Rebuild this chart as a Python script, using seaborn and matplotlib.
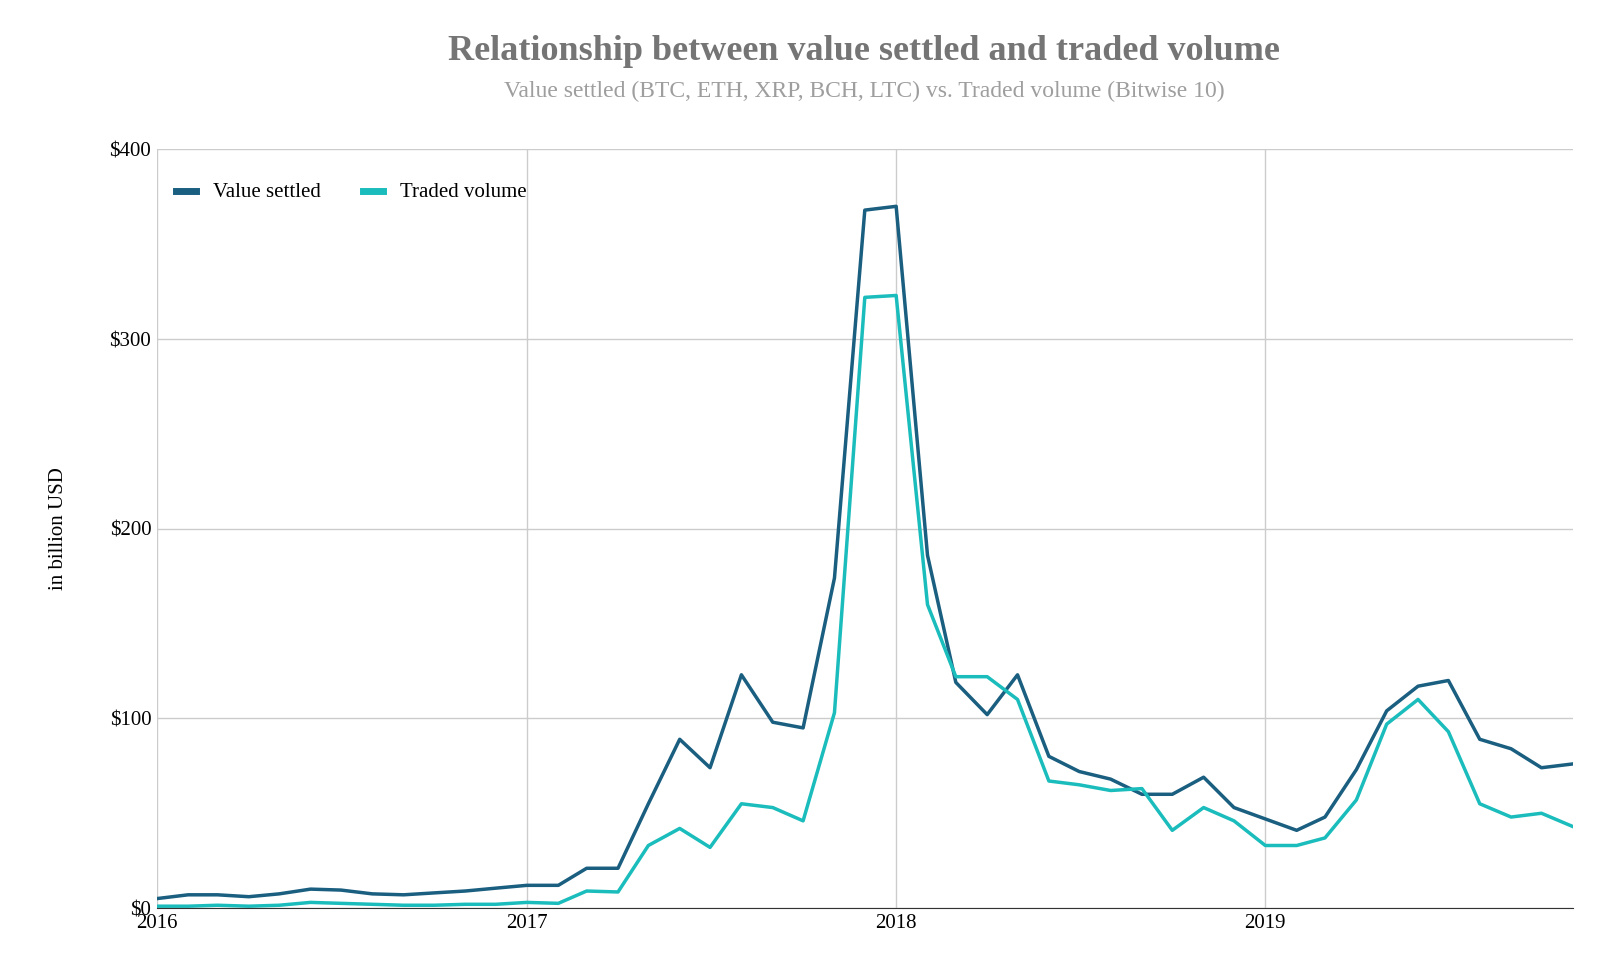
import matplotlib
matplotlib.use("Agg")
import matplotlib.pyplot as plt
import seaborn as sns
import pandas as pd
import numpy as np

months = pd.date_range("2016-01-01", periods=47, freq="MS")
value_settled = [5,7,7,6,7.5,10,9.5,7.5,7,8,9,10.5,
                 12,12,21,21,55,89,74,123,98,95,174,368,
                 370,186,119,102,123,80,72,68,60,60,69,53,
                 47,41,48,73,104,117,120,89,84,74,76]
traded_volume = [1,1,1.5,1,1.5,3,2.5,2,1.5,1.5,2,2,
                 3,2.5,9,8.5,33,42,32,55,53,46,103,322,
                 323,160,122,122,110,67,65,62,63,41,53,46,
                 33,33,37,57,97,110,93,55,48,50,43]
year_ticks = ["2016", "2017", "2018", "2019"]

df = pd.DataFrame({"date": list(months)*2,
                   "value": value_settled + traded_volume,
                   "series": ["Value settled"]*47 + ["Traded volume"]*47})

plt.rcParams["font.family"] = "Liberation Serif"
fig = plt.figure(figsize=(16, 9.64), dpi=100)
ax = fig.add_axes([0.098, 0.058, 0.885, 0.787])
sns.lineplot(data=df, x="date", y="value", hue="series",
             palette={"Value settled": "#1a5e80", "Traded volume": "#1bbcbc"},
             linewidth=2.5, ax=ax)
ax.set_xlim(pd.Timestamp("2016-01-01"), months[-1])
ax.set_ylim(0, 400)
ax.set_yticks([0, 100, 200, 300, 400])
ax.set_yticklabels(["$0", "$100", "$200", "$300", "$400"], fontsize=15)
ax.set_xticks([pd.Timestamp(f"{y}-01-01") for y in year_ticks])
ax.set_xticklabels(year_ticks, fontsize=15)
ax.grid(True, color="#cccccc", linewidth=1)
ax.set_axisbelow(True)
for s in ["top", "right", "left"]:
    ax.spines[s].set_visible(False)
ax.spines["bottom"].set_color("#333333")
ax.tick_params(length=0, pad=4)
ax.set_xlabel("")
ax.set_ylabel("in billion USD", fontsize=15, labelpad=30)
leg = ax.legend(loc="upper left", ncol=2, frameon=False, fontsize=15,
                handlelength=1.0, handleheight=0.3, bbox_to_anchor=(0.0, 0.98))
for h in leg.get_lines():
    h.set_linewidth(5)
fig.text(0.54, 0.947, "Relationship between value settled and traded volume",
         ha="center", va="center", fontsize=26, fontweight="bold", color="#757575")
fig.text(0.54, 0.905, "Value settled (BTC, ETH, XRP, BCH, LTC) vs. Traded volume (Bitwise 10)",
         ha="center", va="center", fontsize=17, color="#9e9e9e")
fig.savefig("out.png")
